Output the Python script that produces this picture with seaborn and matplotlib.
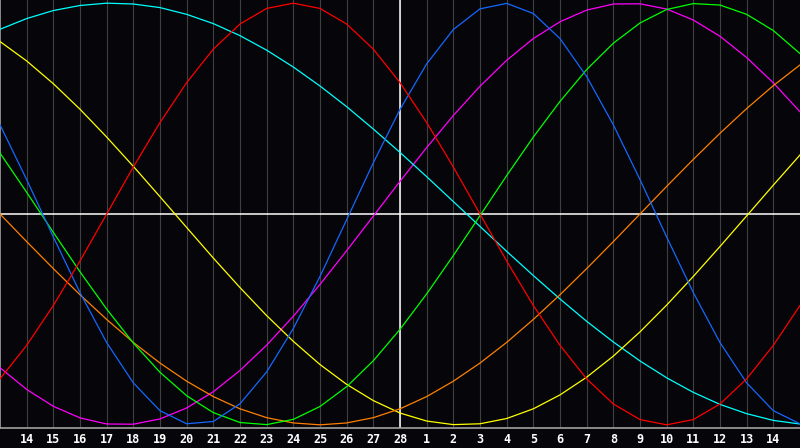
import pandas as pd
import matplotlib
matplotlib.use("Agg")
import matplotlib.pyplot as plt
import seaborn as sns

# =====================================================
# DATA (percent, one value per day)
# =====================================================

days = [13, 14, 15, 16, 17, 18, 19, 20, 21, 22, 23, 24, 25, 26, 27, 28,
        1, 2, 3, 4, 5, 6, 7, 8, 9, 10, 11, 12, 13, 14, 15]

red = [-78.2, -62.3, -43.4, -22.3, 0.0, 22.3, 43.4, 62.3, 78.2, 90.1, 97.5,
       100.0, 97.5, 90.1, 78.2, 62.3, 43.4, 22.3, 0.0, -22.3, -43.4, -62.3,
       -78.2, -90.1, -97.5, -100.0, -97.5, -90.1, -78.2, -62.3, -43.4]

blue = [42.3, 16.3, -10.9, -37.3, -61.0, -80.1, -93.3, -99.5, -98.4, -90.0,
        -74.9, -54.3, -29.6, -2.7, 24.3, 49.6, 71.2, 87.5, 97.3, 99.9, 95.1,
        83.2, 65.2, 42.3, 16.3, -10.9, -37.3, -61.0, -80.1, -93.3, -99.5]

green = [28.9, 10.3, -8.7, -27.4, -45.1, -61.2, -75.1, -86.2, -94.2, -98.9,
         -99.9, -97.4, -91.3, -81.9, -69.6, -54.7, -37.9, -19.7, -0.8, 18.2,
         36.5, 53.4, 68.5, 81.0, 90.6, 97.0, 99.8, 99.1, 94.7, 87.0, 76.1]

orange = [0.0, -13.1, -25.9, -38.3, -50.0, -60.9, -70.7, -79.3, -86.6, -92.4,
          -96.6, -99.1, -100.0, -99.1, -96.6, -92.4, -86.6, -79.3, -70.7,
          -60.9, -50.0, -38.3, -25.9, -13.1, 0.0, 13.1, 25.9, 38.3, 50.0,
          60.9, 70.7]

cyan = [87.6, 92.7, 96.5, 98.9, 100.0, 99.6, 97.9, 94.7, 90.3, 84.6, 77.7,
        69.7, 60.7, 50.9, 40.3, 29.2, 17.7, 5.9, -5.9, -17.7, -29.2, -40.3,
        -50.9, -60.7, -69.7, -77.7, -84.6, -90.3, -94.7, -97.9, -99.6]

yellow = [81.8, 72.6, 61.8, 49.7, 36.5, 22.6, 8.2, -6.4, -20.9, -34.9, -48.2,
          -60.4, -71.4, -80.8, -88.5, -94.4, -98.2, -99.9, -99.5, -97.0,
          -92.4, -85.8, -77.4, -67.4, -55.9, -43.2, -29.6, -15.4, -0.9, 13.7,
          28.0]

magenta = [-72.9, -83.2, -91.2, -96.7, -99.6, -99.7, -97.2, -92.0, -84.3,
           -74.2, -62.2, -48.5, -33.4, -17.4, -1.0, 15.5, 31.5, 46.7, 60.6,
           72.9, 83.2, 91.2, 96.7, 99.6, 99.7, 97.2, 92.0, 84.3, 74.2, 62.2,
           48.5]

series = {
    "magenta": magenta,
    "cyan": cyan,
    "yellow": yellow,
    "orange": orange,
    "green": green,
    "blue": blue,
    "red": red,
}

colors = {
    "magenta": "#ff00ff",
    "cyan": "#00ffff",
    "yellow": "#ffff00",
    "orange": "#ff8000",
    "green": "#00ff00",
    "blue": "#1468ff",
    "red": "#ff0000",
}

# =====================================================
# LONG TABLE
# =====================================================

rows = []
for name, values in series.items():
    for i, v in enumerate(values):
        rows.append({"pos": i, "value": v, "cycle": name})
df = pd.DataFrame(rows)

# =====================================================
# FIGURE
# =====================================================

bg = "#060509"

fig = plt.figure(figsize=(8, 4.48), dpi=100, facecolor=bg)
ax = fig.add_axes([0, 20 / 448, 1, 428 / 448])
ax.set_facecolor(bg)

# day grid
for i in range(1, len(days) - 1):
    ax.axvline(i, color="#404040", lw=0.8, zorder=1)

sns.lineplot(
    data=df,
    x="pos",
    y="value",
    hue="cycle",
    palette=colors,
    linewidth=0.9,
    legend=False,
    ax=ax,
    zorder=3
)

# zero line and today marker
ax.axhline(0, color="white", lw=1.1, zorder=2)
ax.axvline(15, color="white", lw=1.1, zorder=2)

ax.set_xlim(0, len(days) - 1)
ax.set_ylim(-101.5, 101.5)

ax.set_xticks(range(1, len(days) - 1))
ax.set_xticklabels(
    [str(d) for d in days[1:-1]],
    color="white",
    fontsize=8.5,
    fontweight="bold",
    family="DejaVu Sans Mono"
)
ax.tick_params(axis="x", length=0, pad=3.5)
ax.set_yticks([])
ax.set_xlabel("")
ax.set_ylabel("")

for side in ["top", "right"]:
    ax.spines[side].set_visible(False)
for side in ["left", "bottom"]:
    ax.spines[side].set_color("#a0a0a0")
    ax.spines[side].set_linewidth(1.2)

fig.savefig("out.png", dpi=100, facecolor=bg)
